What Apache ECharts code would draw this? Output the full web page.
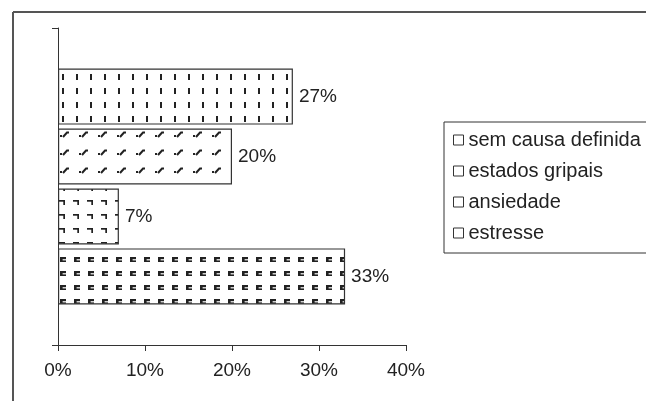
<!DOCTYPE html>
<html>
<head>
<meta charset="utf-8">
<script src="https://cdn.jsdelivr.net/npm/echarts@6/dist/echarts.min.js"></script>
<style>
  html, body { margin: 0; padding: 0; background: #fff; }
  #myChart { width: 646px; height: 401px; }
</style>
</head>
<body>
<div id="myChart"></div>
<script>
// dados do gráfico (a primeira série fica no topo)
const categorias = [''];
const nomesSeries = ['sem causa definida', 'estados gripais', 'ansiedade', 'estresse'];
const valores = [27, 20, 7, 33];
const ordemLegenda = ['sem causa definida', 'estados gripais', 'ansiedade', 'estresse'];
const eixoX = { min: 0, max: 40, passo: 10 };

const tinta = '#222';
const fonte = '"Liberation Sans", Arial, sans-serif';

// padrões de preenchimento (hachuras tipo Excel)
function padrao(w, h, desenha) {
	let c = document.createElement('canvas');
	c.width = w; c.height = h;
	let ctx = c.getContext('2d');
	ctx.fillStyle = '#fff';
	ctx.fillRect(0, 0, w, h);
	ctx.fillStyle = tinta;
	ctx.strokeStyle = tinta;
	desenha(ctx);
	return { image: c, repeat: 'repeat' };
}

let padroes = {
	'estresse': padrao(14, 14, function (ctx) {
		ctx.fillRect(4, 5, 6, 2.2);
		ctx.fillRect(4, 5, 2.6, 5);
		ctx.fillRect(4, 8.4, 6, 1.6);
	}),
	'ansiedade': padrao(14, 14, function (ctx) {
		ctx.fillRect(3, 4, 6, 1.7);
		ctx.fillRect(7.3, 4, 1.7, 5);
	}),
	'estados gripais': padrao(19, 18, function (ctx) {
		ctx.fillRect(3, 9, 2, 2);
		ctx.lineWidth = 2;
		ctx.beginPath();
		ctx.moveTo(6, 11); ctx.lineTo(10, 6.5); ctx.lineTo(12, 6.5);
		ctx.stroke();
	}),
	'sem causa definida': padrao(14, 14, function (ctx) {
		ctx.fillRect(6, 4, 2, 6);
	})
};

let myChart = echarts.init(document.getElementById('myChart'));

let series = [];
for (let i = 0; i < nomesSeries.length; i++) {
	series.push({
		name: nomesSeries[i],
		type: 'bar',
		barWidth: 56,
		barGap: '7%',
		data: [valores[i]],
		itemStyle: {
			color: padroes[nomesSeries[i]],
			borderColor: '#333',
			borderWidth: 1.2
		},
		label: {
			show: true,
			position: 'right',
			distance: 6,
			formatter: '{c}%',
			color: tinta,
			fontSize: 19,
			fontFamily: fonte
		},
		emphasis: { disabled: true }
	});
}

let option = {
	animation: false,
	backgroundColor: '#fff',
	grid: { left: 58, right: 240, top: 28, bottom: 56 },
	xAxis: {
		type: 'value',
		min: eixoX.min,
		max: eixoX.max,
		interval: eixoX.passo,
		axisLine: { show: true, lineStyle: { color: '#333', width: 1 } },
		axisTick: { show: true, length: 6, lineStyle: { color: '#333' } },
		splitLine: { show: false },
		axisLabel: {
			formatter: '{value}%',
			color: tinta,
			fontSize: 19,
			fontFamily: fonte,
			margin: 16
		}
	},
	yAxis: {
		type: 'category',
		data: categorias,
		axisLine: { show: true, lineStyle: { color: '#333', width: 1 } },
		axisTick: { show: true, length: 6, lineStyle: { color: '#333' } },
		axisLabel: { show: false },
		splitLine: { show: false }
	},
	legend: {
		orient: 'vertical',
		left: 444,
		top: 122,
		data: ordemLegenda,
		icon: 'rect',
		itemWidth: 10,
		itemHeight: 10,
		itemGap: 11,
		padding: [8, 12, 10, 9],
		borderColor: '#333',
		borderWidth: 1,
		itemStyle: { color: '#fff', borderColor: '#333', borderWidth: 1 },
		textStyle: { color: tinta, fontSize: 20, fontFamily: fonte, lineHeight: 18 }
	},
	graphic: [
		{ type: 'line', shape: { x1: 13, y1: 12, x2: 646, y2: 12 }, style: { stroke: '#555', lineWidth: 2 } },
		{ type: 'line', shape: { x1: 13, y1: 12, x2: 13, y2: 401 }, style: { stroke: '#555', lineWidth: 2 } }
	],
	series: series
};

myChart.setOption(option);
</script>
</body>
</html>
